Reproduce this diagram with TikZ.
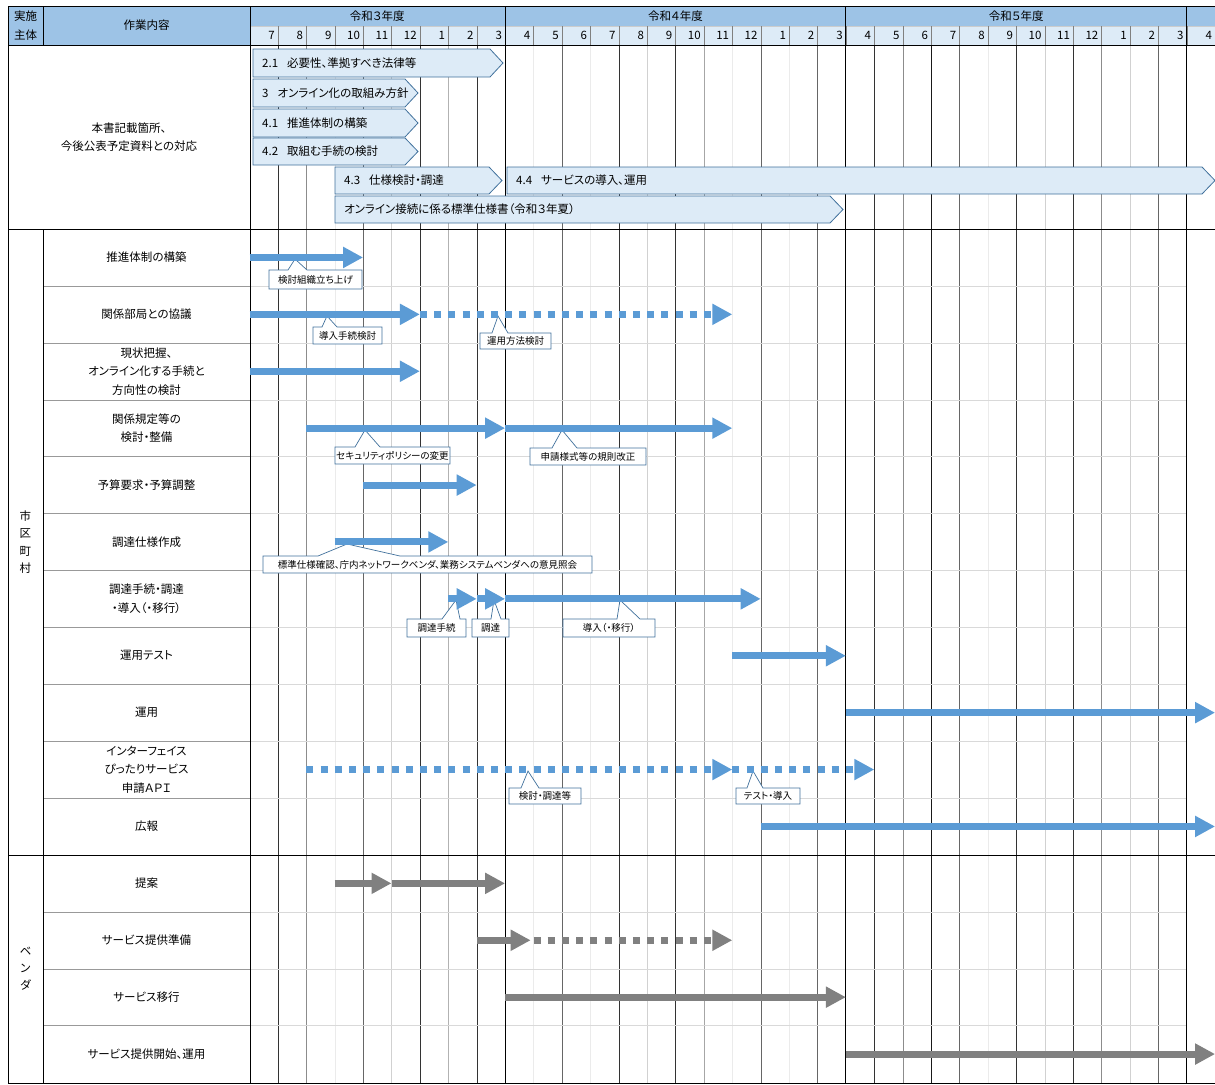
\documentclass[tikz,border=0pt]{standalone}
\usepackage{fontspec}
\setmainfont{Noto Sans CJK JP}[RawFeature=+palt]
\usetikzlibrary{arrows.meta}
\definecolor{hdrblue}{HTML}{9DC3E6}
\definecolor{hdrlight}{HTML}{DDEBF7}
\definecolor{chevline}{HTML}{41719C}
\definecolor{barblue}{HTML}{5B9BD5}
\definecolor{bargray}{HTML}{808080}

\begin{document}
\begin{tikzpicture}[x=1pt,y=-1pt,
  lbl/.style={font=\fontsize{11.5}{18.5}\selectfont,align=center,inner sep=0},
  mon/.style={font=\fontsize{11.5}{12}\selectfont,anchor=east,inner sep=0},
  chevtxt/.style={font=\fontsize{11.5}{12}\selectfont,anchor=west,inner sep=0},
  note/.style={font=\fontsize{9.5}{10}\selectfont,inner sep=0},
  chev/.style={fill=hdrlight,draw=chevline,line width=0.8pt},
  callbox/.style={fill=white,draw=chevline,line width=0.7pt},
  gbar/.style={line width=7pt,-{Triangle[length=20pt,width=20pt]}},
  blubar/.style={gbar,draw=barblue},
  grybar/.style={gbar,draw=bargray},
  dots/.style={dash pattern=on 7pt off 7.2pt}]
\useasboundingbox (0,0) rectangle (1215,1084);
\def\X{249.5};\def\MW{28.4};\def\RH{56.9};
\def\gantt#1#2#3#4{\draw[#1] ({\X+\MW*#3},{229+\RH*(#2-0.5)})--({\X+\MW*#4},{229+\RH*(#2-0.5)});}
\def\chev#1#2#3#4#5#6{\draw[chev] (#1,#2)--({#4-13},#2)--(#4,{(#2+#3)/2})--({#4-13},#3)--(#1,#3)--cycle; \node[chevtxt] (#6) at ({#1+9},{(#2+#3)/2}) {#5};}
\def\callout#1#2#3#4#5#6#7#8#9{\draw[callbox] (#2,#3)--(#6,#3)--(#8)--(#7,#3)--(#4,#3)--(#4,#5)--(#2,#5)--cycle; \node[note] (#1) at ({(#2+#4)/2},{(#3+#5)/2}) {#9};}

% header
\fill[hdrblue] (8,6) rectangle (1215,26); \fill[hdrblue] (8,26) rectangle (250,45);
\fill[hdrlight] (250,26) rectangle (1215,45);
\draw[black!20] (250,26)--(1215,26);
\foreach \i in {1,...,33} \draw[black!50] ({\X+\MW*\i},26)--({\X+\MW*\i},45);
\node[lbl] (hd1) at (25.5,25.5) {実施\\主体};
\node[lbl] (hd2) at (146.5,25) {作業内容};
\node[lbl] (yr3) at ({\X+\MW*4.5},16) {令和３年度};
\node[lbl] (yr4) at ({\X+\MW*15},16) {令和４年度};
\node[lbl] (yr5) at ({\X+\MW*27},16) {令和５年度};
\foreach \m [count=\i] in {7,8,9,10,11,12,1,2,3,4,5,6,7,8,9,10,11,12,1,2,3,4,5,6,7,8,9,10,11,12,1,2,3,4}
  \node[mon] (m\i) at ({\X+\MW*\i-3},35.5) {\m};

% grid
\foreach \i/\c in {1/80,2/45,3/8,4/60,5/18,6/80,7/30,8/80,10/8,11/60,12/8,13/80,14/18,15/80,16/35,17/8,18/60,19/8,20/60,22/80,23/45,24/90,25/60,26/8,27/80,28/18,29/80,30/45,31/18,32/60}
  \draw[black!\c] ({\X+\MW*\i},45)--({\X+\MW*\i},1083);
\foreach \k in {1,...,10,12,13,14} {
  \draw[black!40] (43,{229+\RH*\k})--(250,{229+\RH*\k});
  \draw[black!15] (250,{229+\RH*\k})--(1187,{229+\RH*\k});}
\foreach \i in {9,21,33} \draw[black,line width=0.9pt] ({\X+\MW*\i},6)--({\X+\MW*\i},1083);
\foreach \y in {6,45,229,855,1083} \draw[black,line width=0.9pt] (8,\y)--(1215,\y);
\draw[black,line width=0.9pt] (8,6)--(8,1083) (250,6)--(250,1083) (43,6)--(43,45) (43,229)--(43,1083);

% row texts
\node[lbl] (top) at (129,137) {本書記載箇所、\\今後公表予定資料との対応};
\node[lbl,font=\fontsize{11.5}{17.5}\selectfont] (sec1) at (25.5,542) {市\\区\\町\\村};
\node[lbl,font=\fontsize{11.5}{17}\selectfont] (sec2) at (25.5,969) {ベ\\ン\\ダ};
\foreach \t [count=\k] in {推進体制の構築,関係部局との協議,{現状把握、\\オンライン化する手続と\\方向性の検討},{関係規定等の\\検討・整備},予算要求・予算調整,調達仕様作成,{調達手続・調達\\・導入（・移行）},運用テスト,運用,{インターフェイス\\ぴったりサービス\\申請ＡＰＩ},広報,提案,サービス提供準備,サービス移行,サービス提供開始、運用}
  \node[lbl] (t\k) at (146.5,{229+\RH*(\k-0.5)}) {\t};

% chevrons
\chev{253}{49}{77}{503}{2.1\hspace{9pt}必要性、準拠すべき法律等}{c1}
\chev{253}{79}{107}{418}{3\hspace{9pt}オンライン化の取組み方針}{c2}
\chev{253}{109}{137}{418}{4.1\hspace{9pt}推進体制の構築}{c3}
\chev{253}{138}{165}{418}{4.2\hspace{9pt}取組む手続の検討}{c4}
\chev{335}{167}{194}{502}{4.3\hspace{9pt}仕様検討・調達}{c5}
\chev{507}{167}{194}{1215}{4.4\hspace{9pt}サービスの導入、運用}{c6}
\chev{335}{196}{223}{843}{オンライン接続に係る標準仕様書（令和３年夏）}{c7}

% callouts
\callout{n1}{269}{270}{362}{289}{288}{307}{295,259}{検討組織立ち上げ}
\callout{n2}{313}{327}{382}{344}{322}{337}{327,316}{導入手続検討}
\callout{n3}{480}{333}{551}{349}{492}{508}{498,316}{運用方法検討}
\callout{n4}{335}{447}{450}{464}{355}{380}{365,430}{セキュリティポリシーの変更}
\callout{n5}{530}{448}{646}{465}{552}{577}{562,430}{申請様式等の規則改正}
\callout{n6}{263}{556}{592}{573}{318}{400}{347,544}{標準仕様確認、庁内ネットワークベンダ、業務システムベンダへの意見照会}
\callout{n7}{407}{619}{466}{637}{442}{460}{456,600}{調達手続}
\callout{n8}{472}{619}{509}{637}{491}{501}{494,600}{調達}
\callout{n9}{563}{619}{655}{637}{617}{640}{620,600}{導入（・移行）}
\callout{n10}{509}{788}{581}{804}{521}{539}{528,771}{検討・調達等}
\callout{n11}{736}{788}{800}{804}{747}{763}{753,771}{テスト・導入}

% bars
\gantt{blubar}{1}{0}{4}
\gantt{blubar}{2}{0}{6} \gantt{blubar,dots}{2}{6}{17}
\gantt{blubar}{3}{0}{6}
\gantt{blubar}{4}{2}{9} \gantt{blubar}{4}{9}{17}
\gantt{blubar}{5}{4}{8}
\gantt{blubar}{6}{3}{7}
\gantt{blubar}{7}{7}{8} \gantt{blubar}{7}{8}{9} \gantt{blubar}{7}{9}{18}
\gantt{blubar}{8}{17}{21}
\gantt{blubar}{9}{21}{34}
\gantt{blubar,dots}{10}{2}{17} \gantt{blubar,dots}{10}{17}{22}
\gantt{blubar}{11}{18}{34}
\gantt{grybar}{12}{3}{5} \gantt{grybar}{12}{5}{9}
\gantt{grybar}{13}{8}{9.9} \gantt{grybar,dots}{13}{10}{17}
\gantt{grybar}{14}{9}{21}
\gantt{grybar}{15}{21}{34}
\end{tikzpicture}
\end{document}
